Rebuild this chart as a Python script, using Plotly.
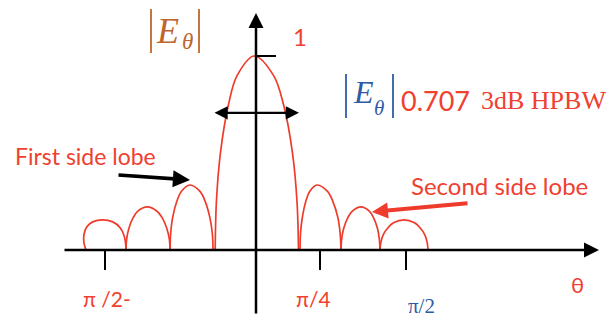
import plotly.graph_objects as go

# Radiation pattern |E_theta| versus theta (theta in degrees, amplitude normalised to 1)
# Each lobe is an outline of (theta, amplitude) points, joined with a smooth spline.
main_theta = [-24.5, -23.75, -21.35, -16.5, -11.3, -1.0, 10.5, 16.5, 21.9, 24.6, 25.5]
main_amp = [0.0, 0.25, 0.5, 0.75, 0.9, 1.0, 0.9, 0.75, 0.5, 0.25, 0.0]

left1_theta = [-51.6, -51.2, -50.0, -47.5, -44.8, -39.6, -33.6, -30.5, -27.7, -26.2, -25.8]
left1_amp = [0.0, 0.084, 0.168, 0.251, 0.302, 0.335, 0.302, 0.251, 0.168, 0.084, 0.0]

left2_theta = [-78.0, -77.6, -76.3, -73.7, -70.9, -65.4, -59.4, -56.3, -53.5, -52.0, -51.6]
left2_amp = [0.0, 0.056, 0.111, 0.167, 0.2, 0.222, 0.2, 0.167, 0.111, 0.056, 0.0]

left3_theta = [-102.0, -103.3, -103.2, -101.5, -98.0, -92.0, -86.0, -81.5, -79.0, -78.2, -78.0]
left3_amp = [0.0, 0.04, 0.08, 0.12, 0.145, 0.155, 0.145, 0.115, 0.07, 0.03, 0.0]

right1_theta = [26.4, 26.7, 27.8, 29.9, 32.2, 36.6, 42.9, 46.1, 49.1, 50.5, 51.0]
right1_amp = [0.0, 0.084, 0.168, 0.251, 0.302, 0.335, 0.302, 0.251, 0.168, 0.084, 0.0]

right2_theta = [51.0, 51.4, 52.6, 55.1, 57.8, 63.0, 68.0, 70.5, 72.9, 74.0, 74.4]
right2_amp = [0.0, 0.056, 0.111, 0.167, 0.2, 0.222, 0.2, 0.167, 0.111, 0.056, 0.0]

right3_theta = [74.4, 74.9, 76.3, 79.3, 82.5, 88.8, 95.1, 98.3, 101.3, 102.7, 103.2]
right3_amp = [0.0, 0.039, 0.078, 0.116, 0.14, 0.155, 0.14, 0.116, 0.078, 0.039, 0.0]

lobes = [
    (left3_theta, left3_amp), (left2_theta, left2_amp), (left1_theta, left1_amp),
    (main_theta, main_amp),
    (right1_theta, right1_amp), (right2_theta, right2_amp), (right3_theta, right3_amp),
]

peak_level = 1.0
hpbw_level = 0.707
hpbw_theta = [-25.8, 25.8]

tick_theta = [-90.6, 38.4, 90.0]
tick_labels = ["π /2-", "π/4", "π/2"]

W, H = 608, 320
X_RANGE = [-153.6, 211.2]
Y_RANGE = [-0.3608, 1.2887]

RED = "#ef3b2c"
TXT_RED = "#f0402f"
BROWN = "#c0652e"
BLUE = "#2f5ba6"
BLACK = "#000000"


def px(x, y):
    """Pixel position inside the figure -> paper coordinates."""
    return x / W, 1 - y / H


fig = go.Figure()

for th, amp in lobes:
    fig.add_trace(go.Scatter(
        x=th, y=amp, mode="lines",
        line=dict(color=RED, width=1.7, shape="spline", smoothing=1.0),
        hoverinfo="skip",
    ))

ann = []


def arrow(x0, y0, x1, y1, color=BLACK, width=2.5, size=1.2, side="end"):
    ann.append(dict(
        x=x1, y=y1, ax=x0, ay=y0, xref="x", yref="y", axref="x", ayref="y",
        text="", showarrow=True, arrowhead=2, arrowside=side,
        arrowwidth=width, arrowsize=size, arrowcolor=color, standoff=0,
        startstandoff=0,
    ))


# coordinate axes
arrow(-115.8, 0, 205.8, 0)
arrow(0, -0.335, 0, 1.222)
# half-power beamwidth
arrow(hpbw_theta[0], hpbw_level, hpbw_theta[1], hpbw_level,
      width=2.2, size=1.2, side="end+start")
# pointers to the side lobes
arrow(-83.4, 0.387, -39.6, 0.361, width=3.6, size=0.95)
arrow(127.8, 0.242, 69.6, 0.196, color=RED, width=4, size=0.8)

shapes = []
for t in tick_theta:
    shapes.append(dict(type="line", xref="x", yref="y", x0=t, x1=t, y0=0, y1=-0.103,
                       line=dict(color=BLACK, width=2)))
shapes.append(dict(type="line", xref="x", yref="y", x0=0, x1=12, y0=peak_level, y1=peak_level,
                   line=dict(color=BLACK, width=2)))

# magnitude bars around E_theta
for (xb, y0, y1, col) in [(151, 9, 53, BROWN), (199, 9, 53, BROWN),
                          (346, 74, 118, BLUE), (393, 74, 118, BLUE)]:
    a0 = px(xb, y0)
    a1 = px(xb, y1)
    shapes.append(dict(type="line", xref="paper", yref="paper", x0=a0[0], x1=a1[0],
                       y0=a0[1], y1=a1[1], line=dict(color=col, width=1.8)))


def label(text, x, y, size, color, family="Lato", xanchor="center"):
    p = px(x, y)
    ann.append(dict(x=p[0], y=p[1], xref="paper", yref="paper", text=text,
                    showarrow=False, xanchor=xanchor, yanchor="middle",
                    font=dict(size=size, color=color, family=family)))


SERIF = "Liberation Serif"
label("<i>E</i>", 167, 31, 36, BROWN, SERIF)
label("<i>θ</i>", 187, 42, 23, BROWN, SERIF)
label("<i>E</i>", 363, 92, 32, BLUE, SERIF)
label("<i>θ</i>", 379, 108, 21, BLUE, SERIF)

label("1", 300, 37, 24, TXT_RED)
label("0.707", 435, 100, 27, TXT_RED)
label("3dB HPBW", 543, 100, 26, TXT_RED, SERIF)
label("First side lobe", 85, 156, 23, TXT_RED)
label("Second side lobe", 500, 185, 24, TXT_RED)

label(tick_labels[0], 107, 298, 21, TXT_RED)
label(tick_labels[1], 313, 298, 21, TXT_RED)
label(tick_labels[2], 421, 306, 21, BLUE, SERIF)
label("θ", 577, 284, 22, TXT_RED)

fig.update_layout(
    width=W, height=H, margin=dict(l=0, r=0, t=0, b=0),
    paper_bgcolor="white", plot_bgcolor="white", showlegend=False,
    xaxis=dict(range=X_RANGE, visible=False, fixedrange=True),
    yaxis=dict(range=Y_RANGE, visible=False, fixedrange=True),
    annotations=ann, shapes=shapes,
)

fig.write_html("out.html", config={"displayModeBar": False})
